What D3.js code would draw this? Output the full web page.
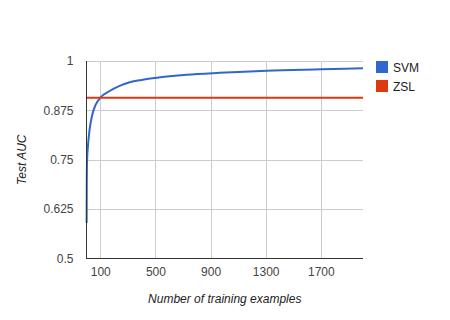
<!DOCTYPE html>
<html>
<head>
<meta charset="utf-8">
<script src="https://cdn.jsdelivr.net/npm/d3@7"></script>
<style>
  html, body { margin: 0; padding: 0; background: #fff; }
  svg { display: block; font-family: "Liberation Sans", Arial, sans-serif; }
</style>
</head>
<body>
<svg id="chart" width="450" height="320"></svg>
<script>
const svmX = [1, 2, 4, 10, 22, 42, 66, 100, 168, 240, 313, 400, 500, 727, 966, 1307, 1706, 2006];
const svmY = [0.59, 0.687, 0.746, 0.782, 0.825, 0.864, 0.889, 0.907, 0.924, 0.937, 0.946, 0.952, 0.957, 0.965, 0.970, 0.9755, 0.979, 0.9815];
const zslValue = 0.907;
const xTicks = [100, 500, 900, 1300, 1700];
const yTicks = [0.5, 0.625, 0.75, 0.875, 1];
const yTickLabels = ["0.5", "0.625", "0.75", "0.875", "1"];
const seriesNames = ["SVM", "ZSL"];
const seriesColors = ["#3366cc", "#dc3912"];

const svg = d3.select("#chart");
const pL = 86.5, pR = 363, pT = 61, pB = 258.5;

const x = d3.scaleLinear().domain([0, 2006]).range([pL, pR]);
const y = d3.scaleLinear().domain([0.5, 1]).range([pB, pT]);

// gridlines
const grid = svg.append("g");
grid.selectAll("line.h").data(yTicks.slice(1)).enter().append("line")
  .attr("x1", pL).attr("x2", pR)
  .attr("y1", d => Math.round(y(d)) + 0.5).attr("y2", d => Math.round(y(d)) + 0.5)
  .attr("stroke", "#cccccc").attr("stroke-width", 1);
grid.selectAll("line.v").data(xTicks).enter().append("line")
  .attr("y1", pT).attr("y2", pB)
  .attr("x1", d => Math.round(x(d)) + 0.5).attr("x2", d => Math.round(x(d)) + 0.5)
  .attr("stroke", "#cccccc").attr("stroke-width", 1);

// axes with d3 axis generators (labels only), plus baselines
const yAxis = d3.axisLeft(y).tickValues(yTicks).tickFormat((d, i) => yTickLabels[i]).tickSize(0).tickPadding(13);
const gy = svg.append("g").attr("transform", `translate(${pL},0)`).call(yAxis);
gy.select(".domain").remove();
gy.selectAll("text").attr("font-size", 12).attr("fill", "#444").attr("font-family", "Liberation Sans, Arial, sans-serif");

const xAxis = d3.axisBottom(x).tickValues(xTicks).tickFormat(d3.format("d")).tickSize(0).tickPadding(9);
const gx = svg.append("g").attr("transform", `translate(0,${pB})`).call(xAxis);
gx.select(".domain").remove();
gx.selectAll("text").attr("font-size", 12).attr("fill", "#444").attr("font-family", "Liberation Sans, Arial, sans-serif");

// lines
const line = d3.line().x(d => x(d[0])).y(d => y(d[1])).curve(d3.curveMonotoneX);
svg.append("path")
  .datum(svmX.map((v, i) => [v, svmY[i]]))
  .attr("d", line)
  .attr("fill", "none").attr("stroke", seriesColors[0]).attr("stroke-width", 2);
svg.append("line")
  .attr("x1", pL).attr("x2", pR)
  .attr("y1", y(zslValue)).attr("y2", y(zslValue))
  .attr("stroke", seriesColors[1]).attr("stroke-width", 2);

// axis baselines
svg.append("line").attr("x1", pL).attr("x2", pL).attr("y1", pT).attr("y2", pB + 0.5)
  .attr("stroke", "#333").attr("stroke-width", 1);
svg.append("line").attr("x1", pL - 0.5).attr("x2", pR).attr("y1", pB).attr("y2", pB)
  .attr("stroke", "#333").attr("stroke-width", 1);

// axis titles
svg.append("text").attr("x", (pL + pR) / 2).attr("y", 303)
  .attr("text-anchor", "middle").attr("font-size", 12).attr("font-style", "italic").attr("fill", "#222")
  .text("Number of training examples");
svg.append("text").attr("transform", `translate(26,${(pT + pB) / 2}) rotate(-90)`)
  .attr("text-anchor", "middle").attr("font-size", 12).attr("font-style", "italic").attr("fill", "#222")
  .text("Test AUC");

// legend
const lg = svg.append("g").selectAll("g").data(seriesNames).enter().append("g")
  .attr("transform", (d, i) => `translate(376,${61 + i * 19})`);
lg.append("rect").attr("width", 12).attr("height", 12).attr("fill", (d, i) => seriesColors[i]);
lg.append("text").attr("x", 17).attr("y", 10.5).attr("font-size", 12).attr("fill", "#222").text(d => d);
</script>
</body>
</html>
